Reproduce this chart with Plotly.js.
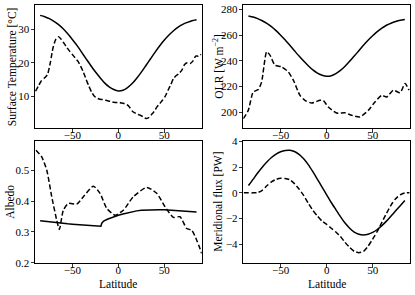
<!DOCTYPE html>
<html>
<head>
<meta charset="utf-8">
<script src="https://cdn.plot.ly/plotly-3.0.1.min.js"></script>
<style>html,body{margin:0;padding:0;background:#fff;}#chart{width:415px;height:295px;}</style>
</head>
<body>
<div id="chart"></div>
<script>
// ---- Surface temperature ----
const latModel = [-85,-80,-75,-70,-65,-60,-55,-50,-45,-40,-35,-30,-25,-20,-15,-10,-5,0,5,10,15,20,25,30,35,40,45,50,55,60,65,70,75,80,85];
const tempModel = [34.2,33.8,33.2,32.4,31.4,30.2,28.7,27.0,25.2,23.2,21.2,19.2,17.3,15.6,14.0,12.8,12.0,11.6,11.8,12.6,13.8,15.4,17.2,19.2,21.2,23.2,25.1,26.8,28.3,29.6,30.7,31.5,32.1,32.6,32.9];
const latObsT = [-90,-87,-84,-80,-77,-74,-71,-68,-65,-62,-59,-56,-53,-50,-47,-44,-41,-38,-35,-32,-29,-26,-23,-20,-17,-14,-11,-8,-5,-2,0,3,6,9,12,15,18,21,24,27,30,33,36,39,42,45,48,51,54,57,60,63,66,69,72,75,78,81,84,87,90];
const tempObs = [11.5,13.0,14.5,15.5,16.5,20.0,24.5,27.0,27.8,27.0,25.8,24.6,23.5,22.5,21.5,20.5,19.0,17.2,15.0,13.0,11.2,10.0,9.4,9.1,9.0,8.8,8.6,8.4,8.2,8.1,8.2,8.0,7.8,7.5,6.8,5.6,5.0,4.6,4.3,3.8,3.3,3.6,4.5,5.5,6.8,7.8,8.8,10.0,11.8,13.5,15.3,16.2,16.8,17.8,19.5,20.0,19.8,20.5,22.0,22.0,22.5];

// ---- OLR ----
const olrModel = [274.8,274.0,272.8,271.1,269.0,266.5,263.4,259.9,256.1,252.0,247.8,243.6,239.7,236.1,232.8,230.3,228.7,227.8,228.2,229.9,232.4,235.7,239.5,243.6,247.8,252.0,255.9,259.4,262.6,265.3,267.6,269.2,270.5,271.5,272.1];
const latObsOLR = [-90.6,-85.2,-79.8,-74.3,-70.7,-65.2,-61.6,-56.2,-49,-41.7,-36.2,-29,-23.6,-16.3,-7.2,-3.6,1.8,10.9,20,27.2,36.2,45.3,52.5,59.8,65.2,72.5,79.8,85.2,89.6];
const olrObs = [194.8,201.3,215.6,217.5,223.4,246.9,244.3,236.5,235.2,231.3,224.8,213.0,209.1,207.0,209.1,209.0,203.9,199.2,199.4,197.4,196.1,201.3,207.8,213.0,211.7,217.0,215.0,222.2,217.0];

// ---- Albedo ----
const latAlbModel = [-85,-80,-75,-70,-65,-60,-55,-50,-45,-40,-35,-30,-25,-20,-19,-18,-16,-12,-8,-4,0,5,10,15,20,25,30,35,40,45,50,55,60,65,70,75,80,85];
const albModel = [0.336,0.334,0.332,0.330,0.328,0.327,0.326,0.325,0.324,0.323,0.322,0.321,0.320,0.318,0.318,0.328,0.335,0.341,0.346,0.350,0.354,0.358,0.362,0.365,0.368,0.370,0.371,0.372,0.372,0.372,0.372,0.371,0.370,0.369,0.368,0.367,0.366,0.364];
const latAlbObs = [-89.5,-83.3,-77.8,-72.4,-67,-64.1,-59.8,-54.3,-45.2,-38,-27.2,-19.9,-12.6,-3.6,5.4,16.3,30.9,41.7,50.8,59.8,67,74.3,79.8,85.2,90.6];
const albObs = [0.565,0.543,0.500,0.414,0.338,0.308,0.370,0.392,0.390,0.414,0.448,0.425,0.376,0.354,0.370,0.414,0.444,0.425,0.381,0.347,0.349,0.311,0.305,0.273,0.230];

// ---- Meridional flux ----
const latFluxModel = [-85,-80,-75,-70,-65,-60,-55,-50,-45,-40,-35,-30,-25,-20,-15,-10,-5,0,5,10,15,20,25,30,35,40,45,50,55,60,65,70,75,80,85];
const fluxModel = [0.57,1.05,1.55,2.0,2.4,2.75,3.02,3.2,3.3,3.32,3.22,3.0,2.65,2.2,1.65,1.05,0.45,-0.15,-0.75,-1.3,-1.85,-2.35,-2.75,-3.05,-3.22,-3.27,-3.22,-3.08,-2.85,-2.55,-2.2,-1.8,-1.4,-1.0,-0.6];
const latFluxObs = [-90,-85,-80,-75,-70,-65,-60,-55,-50,-45,-40,-35,-30,-25,-20,-15,-10,-5,0,5,10,15,20,25,30,35,40,45,50,55,60,65,70,75,80,85,90];
const fluxObs = [0.0,0.0,0.0,0.02,0.2,0.55,0.85,1.05,1.13,1.12,1.02,0.72,0.3,-0.2,-0.8,-1.35,-1.8,-2.2,-2.45,-2.75,-3.05,-3.4,-3.85,-4.25,-4.55,-4.65,-4.55,-4.15,-3.6,-3.0,-2.3,-1.6,-0.95,-0.45,-0.15,0.0,0.0];

const xTicks = [-50, 0, 50];

const solid = {color: '#000', width: 1.5, shape: 'spline', smoothing: 0.6};
const dashed = {color: '#000', width: 1.5, dash: '5px,2.5px', shape: 'spline', smoothing: 0.6};

const traces = [
  {x: latModel, y: tempModel, xaxis: 'x', yaxis: 'y', mode: 'lines', line: solid},
  {x: latObsT, y: tempObs, xaxis: 'x', yaxis: 'y', mode: 'lines', line: dashed},
  {x: latModel, y: olrModel, xaxis: 'x2', yaxis: 'y2', mode: 'lines', line: solid},
  {x: latObsOLR, y: olrObs, xaxis: 'x2', yaxis: 'y2', mode: 'lines', line: dashed},
  {x: latAlbModel, y: albModel, xaxis: 'x3', yaxis: 'y3', mode: 'lines', line: {color: '#000', width: 1.5}},
  {x: latAlbObs, y: albObs, xaxis: 'x3', yaxis: 'y3', mode: 'lines', line: dashed},
  {x: latFluxModel, y: fluxModel, xaxis: 'x4', yaxis: 'y4', mode: 'lines', line: solid},
  {x: latFluxObs, y: fluxObs, xaxis: 'x4', yaxis: 'y4', mode: 'lines', line: dashed}
];

const FAM = 'Liberation Serif, serif';
const font = {family: FAM, size: 11.5, color: '#000'};
const tickFont = {family: FAM, size: 11, color: '#000'};

function xa(dom, anchor) {
  return {domain: dom, anchor: anchor, range: [-90.6, 90.6], tickvals: xTicks,
    showline: true, mirror: true, linecolor: '#000', linewidth: 1, ticks: 'outside', ticklen: 3.5,
    tickcolor: '#000', tickwidth: 0.8, showgrid: false, zeroline: false, tickfont: tickFont,
    ticklabelstandoff: -7};
}
function ya(dom, anchor, range, tickvals, fmt) {
  return {domain: dom, anchor: anchor, range: range, tickvals: tickvals, tickformat: fmt || '',
    showline: true, mirror: true, linecolor: '#000', linewidth: 1, ticks: 'outside', ticklen: 3.5,
    tickcolor: '#000', tickwidth: 0.8, showgrid: false, zeroline: false, tickfont: tickFont,
    ticklabelstandoff: -1};
}

const W = 415, H = 295;
const colL = [35 / W, 201.7 / W];
const colR = [243.3 / W, 410 / W];
const rowT = [1 - 128.3 / H, 1 - 5 / H];
const rowB = [1 - 263.3 / H, 1 - 141.2 / H];

function ytitle(text, px, row) {
  return {text: text, xref: 'paper', yref: 'paper', x: px / W, y: (row[0] + row[1]) / 2,
    xanchor: 'center', yanchor: 'middle', textangle: -90, showarrow: false, font: font};
}
function xtitle(text, col, py) {
  return {text: text, xref: 'paper', yref: 'paper', x: (col[0] + col[1]) / 2, y: 1 - py / H,
    xanchor: 'center', yanchor: 'middle', showarrow: false, font: font};
}

const layout = {
  width: W, height: H, margin: {l: 0, r: 0, t: 0, b: 0}, showlegend: false,
  paper_bgcolor: '#fff', plot_bgcolor: '#fff', font: font,
  xaxis: xa(colL, 'y'),
  yaxis: ya(rowT, 'x', [0.4, 37.3], [10, 20, 30]),
  xaxis2: xa(colR, 'y2'),
  yaxis2: ya(rowT, 'x2', [187.3, 283.4], [200, 220, 240, 260, 280]),
  xaxis3: xa(colL, 'y3'),
  yaxis3: ya(rowB, 'x3', [0.198, 0.594], [0.2, 0.3, 0.4, 0.5], '.1f'),
  xaxis4: xa(colR, 'y4'),
  yaxis4: ya(rowB, 'x4', [-5.48, 4.02], [-4, -2, 0, 2, 4]),
  annotations: [
    ytitle('Surface Temperature [°C]', 12.5, rowT),
    ytitle('OLR [W m<sup>−2</sup>]', 218, rowT),
    ytitle('Albedo', 10.5, rowB),
    ytitle('Meridional flux [PW]', 218.5, rowB),
    xtitle('Latitude', colL, 284),
    xtitle('Latitude', colR, 284)
  ]
};

Plotly.newPlot('chart', traces, layout, {staticPlot: true, displayModeBar: false});
</script>
</body>
</html>
